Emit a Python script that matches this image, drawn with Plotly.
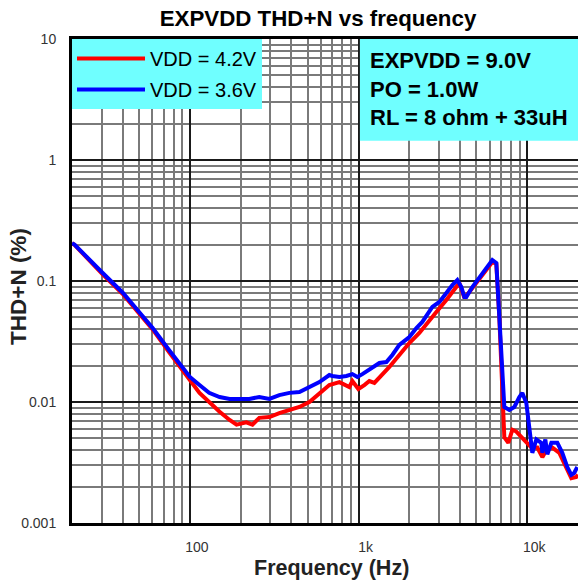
import math
import plotly.graph_objects as go

# ---------------- data ----------------
freq_42 = [20, 20.7, 30.3, 40, 50, 60, 75, 87, 100, 114, 130, 150, 172, 189, 216, 235,
           258, 296, 339, 389, 446, 511, 586, 671, 770, 824, 882, 919, 997, 1082, 1159,
           1241, 1384, 1523, 1745, 2000, 2293, 2629, 2892, 3315, 3799, 3957, 4238, 4538,
           6210, 6560, 6832, 7118, 7316, 7727, 8160, 8619, 9228, 9879, 10576, 11480,
           12291, 12982, 14090, 15500, 17050, 18260, 19550, 20000]
thd_42 = [0.205, 0.199, 0.114, 0.078, 0.054, 0.040, 0.026, 0.020, 0.0152, 0.0119, 0.0100,
          0.0083, 0.0071, 0.0065, 0.0068, 0.0065, 0.0074, 0.0075, 0.0081, 0.0086, 0.0091,
          0.0100, 0.0119, 0.0138, 0.0146, 0.0138, 0.0133, 0.0149, 0.0128, 0.0138, 0.0149,
          0.0144, 0.0167, 0.0195, 0.0245, 0.0307, 0.0372, 0.0476, 0.0554, 0.0697, 0.0892,
          0.0963, 0.0724, 0.0811, 0.1437, 0.138, 0.050, 0.0126, 0.0051, 0.0046, 0.0059,
          0.0057, 0.0051, 0.0047, 0.0042, 0.0042, 0.0035, 0.0040, 0.0042, 0.0038, 0.0029,
          0.00235, 0.0024, 0.0025]

freq_36 = [20, 20.7, 30.3, 40, 50, 60, 75, 87, 100, 114, 130, 150, 172, 197, 225, 258,
           296, 339, 389, 446, 511, 586, 671, 699, 770, 847, 919, 984, 1053, 1207, 1329,
           1462, 1586, 1745, 2000, 2203, 2388, 2739, 3013, 3315, 3597, 3851, 4068, 4238,
           4355, 4727, 5419, 6210, 6560, 6832, 7022, 7316, 7833, 8386, 8980, 9354, 9879,
           10292, 10721, 11324, 12124, 12291, 12806, 13160, 13900, 15085, 16140, 17285,
           18260, 19020, 19820]
thd_36 = [0.205, 0.200, 0.117, 0.080, 0.0555, 0.041, 0.027, 0.021, 0.0161, 0.0138, 0.0119,
          0.0110, 0.0106, 0.0106, 0.0106, 0.0110, 0.0106, 0.0114, 0.0119, 0.0121, 0.0133,
          0.0146, 0.0167, 0.0164, 0.0161, 0.0164, 0.0170, 0.0161, 0.0170, 0.0191, 0.0210,
          0.0214, 0.0245, 0.0296, 0.0344, 0.0409, 0.0459, 0.061, 0.0671, 0.0796, 0.0927,
          0.1019, 0.089, 0.0738, 0.0738, 0.0892, 0.1164, 0.1492, 0.1409, 0.0504, 0.0195,
          0.0091, 0.0086, 0.0091, 0.0110, 0.0119, 0.0098, 0.0059, 0.0038, 0.0049, 0.0046,
          0.0038, 0.0049, 0.0037, 0.0046, 0.0046, 0.0038, 0.0029, 0.0025, 0.0026, 0.0029]

series_names = ["VDD = 4.2V", "VDD = 3.6V"]
series_colors = ["#FF0000", "#0000FF"]

x_tickvals = [100, 1000, 10000]
x_ticktext = ["100", "1k", "10k"]
y_tickvals = [0.001, 0.01, 0.1, 1, 10]
y_ticktext = ["0.001", "0.01", "0.1", "1", "10"]

x_minor = [m * 10 ** e for e in range(1, 5) for m in range(2, 10) if 20 <= m * 10 ** e <= 20000]
y_minor = [m * 10.0 ** e for e in range(-3, 1) for m in range(2, 10)]

info_lines = ["EXPVDD = 9.0V", "PO = 1.0W", "RL = 8 ohm + 33uH"]
title_text = "EXPVDD THD+N vs frequency"
x_title = "Frequency (Hz)"
y_title = "THD+N (%)"

FONT = "Liberation Sans, Arial, sans-serif"
CYAN = "#6FFFFF"

# ---------------- figure ----------------
fig = go.Figure()
for fx, fy, name, col, grp in [(freq_42, thd_42, series_names[0], series_colors[0], "a"),
                               (freq_36, thd_36, series_names[1], series_colors[1], "b")]:
    fig.add_trace(go.Scatter(x=fx, y=fy, mode="lines", name=name, legendgroup=grp,
                             line=dict(color=col, width=4)))

axis_common = dict(
    type="log", showgrid=True, gridcolor="#1a1a1a", gridwidth=1.5,
    showline=True, linecolor="black", linewidth=3, mirror=True,
    ticks="", zeroline=False, automargin=False,
    tickfont=dict(family=FONT, size=14, color="#333333"),
)

fig.update_xaxes(
    **axis_common,
    range=[math.log10(20), math.log10(20000)],
    tickmode="array", tickvals=x_tickvals, ticktext=x_ticktext,
    minor=dict(tickmode="array", tickvals=x_minor, showgrid=True,
               gridcolor="#7a7a7a", gridwidth=1.5, ticks=""),
    ticklabelstandoff=9, ticklabelshift=7,
)
fig.update_yaxes(
    **axis_common,
    range=[-3, 1],
    tickmode="array", tickvals=y_tickvals, ticktext=y_ticktext,
    minor=dict(tickmode="array", tickvals=y_minor, showgrid=True,
               gridcolor="#7a7a7a", gridwidth=1.5, ticks=""),
    ticklabelstandoff=10,
)

# axis titles
fig.add_annotation(xref="paper", yref="paper", x=(331 - 72) / 506, y=(523 - 568) / 484,
                   xanchor="center", yanchor="middle", showarrow=False,
                   text="<b>" + x_title + "</b>",
                   font=dict(family=FONT, size=21.5, color="#222222"))
fig.add_annotation(xref="paper", yref="paper", x=(18 - 72) / 506, y=(523 - 287) / 484,
                   xanchor="center", yanchor="middle", showarrow=False, textangle=-90,
                   text="<b>" + y_title + "</b>",
                   font=dict(family=FONT, size=22.5, color="#222222"))

# info box
fig.add_shape(type="rect", xref="paper", yref="paper", x0=0.569, x1=1.0, y0=0.79, y1=1.0,
              fillcolor=CYAN, line=dict(width=0), layer="above")
fig.add_annotation(xref="paper", yref="paper", x=0.585, y=0.985, xanchor="left", yanchor="top",
                   align="left", showarrow=False,
                   text="<b>" + "<br>".join(info_lines) + "</b>",
                   font=dict(family=FONT, size=22, color="black"))

fig.update_layout(
    width=578, height=580,
    margin=dict(l=72, r=0, t=39, b=57),
    paper_bgcolor="white", plot_bgcolor="white",
    title=dict(text="<b>" + title_text + "</b>", x=(318 - 72) / 506, xref="paper",
               xanchor="center", y=1 - 18 / 580, yref="container", yanchor="middle",
               font=dict(family=FONT, size=22.3, color="black")),
    legend=dict(x=0, y=1, xanchor="left", yanchor="top", bgcolor=CYAN, borderwidth=0,
                font=dict(family=FONT, size=20, color="black"), itemwidth=68,
                tracegroupgap=2),
    showlegend=True,
)

fig.write_html("out.html", config={"displayModeBar": False},
               post_script="document.body.style.margin='0';document.body.style.overflow='hidden';")
